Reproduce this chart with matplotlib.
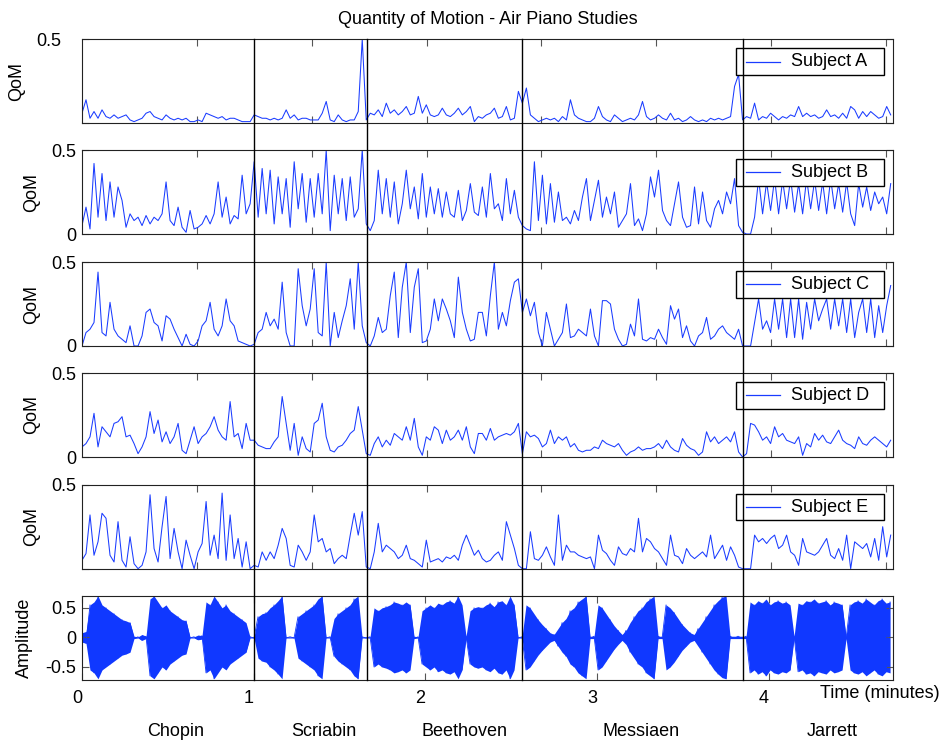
import numpy as np
import matplotlib.pyplot as plt
from matplotlib.lines import Line2D
from matplotlib.patches import Rectangle
from matplotlib import transforms

plt.rcParams['font.family'] = ['Liberation Sans', 'DejaVu Sans']
plt.rcParams['font.size'] = 13

# QoM per subject at evenly spaced video frames
qom_a = [0.06, 0.14, 0.03, 0.07, 0.03, 0.08, 0.04, 0.03, 0.05, 0.03,
         0.04, 0.05, 0.02, 0.01, 0.02, 0.03, 0.06, 0.07, 0.04, 0.03,
         0.02, 0.05, 0.03, 0.02, 0.03, 0.02, 0.03, 0.01, 0.01, 0.02,
         0.01, 0.06, 0.05, 0.04, 0.03, 0.04, 0.02, 0.03, 0.03, 0.02,
         0.01, 0.01, 0.01, 0.05, 0.04, 0.03, 0.03, 0.02, 0.03, 0.02,
         0.03, 0.08, 0.03, 0.05, 0.02, 0.03, 0.03, 0.02, 0.02, 0.02,
         0.06, 0.13, 0.02, 0.01, 0.05, 0.02, 0.01, 0.02, 0.02, 0.07,
         0.50, 0.02, 0.06, 0.05, 0.08, 0.04, 0.12, 0.06, 0.08, 0.05,
         0.07, 0.10, 0.05, 0.06, 0.16, 0.06, 0.11, 0.05, 0.04, 0.05,
         0.09, 0.05, 0.04, 0.06, 0.09, 0.05, 0.07, 0.10, 0.01, 0.04,
         0.03, 0.05, 0.06, 0.09, 0.03, 0.04, 0.10, 0.02, 0.03, 0.19,
         0.12, 0.21, 0.05, 0.03, 0.01, 0.02, 0.03, 0.02, 0.03, 0.01,
         0.04, 0.02, 0.14, 0.05, 0.03, 0.02, 0.01, 0.01, 0.03, 0.10,
         0.04, 0.02, 0.01, 0.05, 0.03, 0.01, 0.02, 0.03, 0.02, 0.05,
         0.13, 0.04, 0.02, 0.03, 0.05, 0.03, 0.02, 0.06, 0.02, 0.03,
         0.01, 0.02, 0.04, 0.02, 0.01, 0.02, 0.01, 0.03, 0.02, 0.03,
         0.02, 0.03, 0.04, 0.22, 0.29, 0.02, 0.04, 0.03, 0.12, 0.02,
         0.04, 0.03, 0.06, 0.04, 0.02, 0.04, 0.03, 0.05, 0.04, 0.10,
         0.04, 0.06, 0.04, 0.05, 0.03, 0.04, 0.08, 0.04, 0.05, 0.03,
         0.06, 0.03, 0.10, 0.08, 0.03, 0.07, 0.04, 0.07, 0.05, 0.03,
         0.04, 0.10, 0.05]

qom_b = [0.05, 0.16, 0.03, 0.42, 0.10, 0.36, 0.08, 0.31, 0.10, 0.28,
         0.20, 0.04, 0.12, 0.08, 0.10, 0.05, 0.11, 0.06, 0.10, 0.08,
         0.12, 0.31, 0.08, 0.05, 0.16, 0.04, 0.01, 0.14, 0.03, 0.04,
         0.06, 0.11, 0.06, 0.12, 0.31, 0.10, 0.22, 0.06, 0.11, 0.09,
         0.35, 0.12, 0.18, 0.43, 0.10, 0.39, 0.12, 0.38, 0.06, 0.34,
         0.12, 0.33, 0.04, 0.43, 0.15, 0.36, 0.07, 0.33, 0.10, 0.36,
         0.12, 0.50, 0.02, 0.35, 0.12, 0.33, 0.08, 0.34, 0.10, 0.15,
         0.50, 0.06, 0.02, 0.08, 0.38, 0.12, 0.33, 0.10, 0.31, 0.06,
         0.18, 0.38, 0.15, 0.28, 0.09, 0.36, 0.10, 0.28, 0.12, 0.27,
         0.10, 0.25, 0.12, 0.10, 0.26, 0.08, 0.14, 0.30, 0.13, 0.11,
         0.28, 0.10, 0.36, 0.15, 0.18, 0.08, 0.33, 0.12, 0.26, 0.10,
         0.05, 0.03, 0.02, 0.43, 0.08, 0.35, 0.06, 0.30, 0.07, 0.25,
         0.08, 0.10, 0.06, 0.14, 0.08, 0.22, 0.33, 0.08, 0.20, 0.32,
         0.10, 0.22, 0.12, 0.25, 0.04, 0.08, 0.12, 0.30, 0.05, 0.09,
         0.02, 0.12, 0.34, 0.22, 0.38, 0.14, 0.08, 0.05, 0.18, 0.31,
         0.10, 0.04, 0.05, 0.28, 0.06, 0.25, 0.08, 0.04, 0.15, 0.20,
         0.12, 0.25, 0.18, 0.33, 0.05, 0.01, 0.00, 0.00, 0.10, 0.33,
         0.12, 0.31, 0.14, 0.33, 0.12, 0.32, 0.15, 0.33, 0.13, 0.30,
         0.12, 0.33, 0.15, 0.32, 0.14, 0.31, 0.12, 0.33, 0.15, 0.30,
         0.13, 0.31, 0.12, 0.05, 0.30, 0.16, 0.28, 0.14, 0.25, 0.18,
         0.22, 0.12, 0.30]

qom_c = [0.00, 0.08, 0.10, 0.14, 0.44, 0.08, 0.06, 0.26, 0.10, 0.06,
         0.04, 0.02, 0.12, 0.00, 0.00, 0.06, 0.20, 0.22, 0.14, 0.12,
         0.03, 0.18, 0.16, 0.10, 0.05, 0.00, 0.07, 0.01, 0.00, 0.03,
         0.12, 0.15, 0.26, 0.10, 0.06, 0.12, 0.28, 0.15, 0.12, 0.03,
         0.02, 0.01, 0.00, 0.01, 0.08, 0.10, 0.20, 0.12, 0.16, 0.10,
         0.38, 0.08, 0.00, 0.00, 0.46, 0.24, 0.12, 0.22, 0.46, 0.08,
         0.06, 0.50, 0.00, 0.20, 0.05, 0.15, 0.24, 0.40, 0.10, 0.50,
         0.12, 0.02, 0.00, 0.06, 0.17, 0.08, 0.10, 0.30, 0.44, 0.05,
         0.35, 0.50, 0.08, 0.35, 0.46, 0.02, 0.03, 0.10, 0.28, 0.15,
         0.28, 0.22, 0.15, 0.05, 0.41, 0.20, 0.10, 0.03, 0.04, 0.20,
         0.20, 0.06, 0.30, 0.50, 0.10, 0.20, 0.12, 0.27, 0.38, 0.40,
         0.20, 0.28, 0.18, 0.26, 0.08, 0.00, 0.20, 0.10, 0.00, 0.04,
         0.08, 0.25, 0.05, 0.06, 0.10, 0.08, 0.06, 0.22, 0.06, 0.00,
         0.27, 0.27, 0.25, 0.10, 0.04, 0.00, 0.01, 0.13, 0.06, 0.28,
         0.04, 0.03, 0.05, 0.04, 0.10, 0.05, 0.01, 0.24, 0.16, 0.22,
         0.05, 0.12, 0.03, 0.00, 0.06, 0.08, 0.17, 0.04, 0.06, 0.10,
         0.12, 0.08, 0.06, 0.04, 0.10, 0.00, 0.00, 0.00, 0.14, 0.28,
         0.10, 0.15, 0.08, 0.28, 0.10, 0.28, 0.05, 0.28, 0.05, 0.28,
         0.04, 0.26, 0.10, 0.28, 0.15, 0.22, 0.28, 0.10, 0.28, 0.12,
         0.28, 0.08, 0.28, 0.05, 0.20, 0.28, 0.08, 0.28, 0.05, 0.24,
         0.08, 0.24, 0.36]

qom_d = [0.06, 0.08, 0.12, 0.26, 0.06, 0.18, 0.15, 0.12, 0.20, 0.21,
         0.24, 0.12, 0.13, 0.08, 0.02, 0.06, 0.12, 0.27, 0.14, 0.22,
         0.09, 0.15, 0.08, 0.12, 0.20, 0.04, 0.02, 0.10, 0.18, 0.08,
         0.12, 0.14, 0.18, 0.24, 0.16, 0.12, 0.10, 0.33, 0.12, 0.14,
         0.05, 0.20, 0.10, 0.10, 0.07, 0.06, 0.05, 0.05, 0.09, 0.12,
         0.36, 0.20, 0.04, 0.20, 0.01, 0.12, 0.05, 0.03, 0.20, 0.22,
         0.32, 0.12, 0.04, 0.03, 0.06, 0.07, 0.10, 0.14, 0.16, 0.30,
         0.16, 0.02, 0.01, 0.08, 0.12, 0.06, 0.10, 0.07, 0.14, 0.12,
         0.10, 0.18, 0.10, 0.23, 0.06, 0.01, 0.12, 0.10, 0.18, 0.16,
         0.08, 0.16, 0.10, 0.12, 0.16, 0.10, 0.18, 0.06, 0.02, 0.14,
         0.14, 0.10, 0.17, 0.10, 0.12, 0.13, 0.14, 0.13, 0.15, 0.20,
         0.02, 0.15, 0.12, 0.13, 0.11, 0.06, 0.08, 0.16, 0.08, 0.12,
         0.10, 0.12, 0.06, 0.08, 0.04, 0.03, 0.04, 0.04, 0.06, 0.05,
         0.10, 0.08, 0.07, 0.06, 0.08, 0.04, 0.01, 0.03, 0.04, 0.06,
         0.04, 0.05, 0.05, 0.06, 0.08, 0.05, 0.10, 0.06, 0.04, 0.03,
         0.11, 0.07, 0.05, 0.04, 0.01, 0.03, 0.15, 0.09, 0.12, 0.08,
         0.10, 0.12, 0.09, 0.15, 0.03, 0.00, 0.02, 0.20, 0.19, 0.15,
         0.10, 0.12, 0.08, 0.18, 0.12, 0.14, 0.10, 0.09, 0.08, 0.12,
         0.01, 0.08, 0.06, 0.14, 0.10, 0.13, 0.09, 0.08, 0.12, 0.16,
         0.10, 0.08, 0.07, 0.05, 0.12, 0.08, 0.07, 0.10, 0.12, 0.10,
         0.08, 0.06, 0.10]

qom_e = [0.05, 0.09, 0.32, 0.08, 0.16, 0.33, 0.30, 0.08, 0.04, 0.28,
         0.05, 0.01, 0.19, 0.03, 0.00, 0.02, 0.10, 0.44, 0.12, 0.04,
         0.25, 0.43, 0.06, 0.24, 0.10, 0.00, 0.17, 0.08, 0.00, 0.10,
         0.15, 0.40, 0.08, 0.20, 0.06, 0.45, 0.05, 0.32, 0.06, 0.18,
         0.01, 0.16, 0.00, 0.02, 0.01, 0.10, 0.05, 0.10, 0.06, 0.14,
         0.24, 0.18, 0.02, 0.01, 0.14, 0.10, 0.05, 0.10, 0.32, 0.16,
         0.18, 0.10, 0.12, 0.03, 0.06, 0.08, 0.06, 0.20, 0.33, 0.20,
         0.34, 0.01, 0.00, 0.10, 0.27, 0.10, 0.14, 0.12, 0.10, 0.06,
         0.08, 0.14, 0.06, 0.05, 0.03, 0.01, 0.17, 0.04, 0.05, 0.06,
         0.04, 0.07, 0.06, 0.08, 0.05, 0.14, 0.20, 0.14, 0.08, 0.11,
         0.06, 0.04, 0.05, 0.08, 0.10, 0.05, 0.28, 0.20, 0.12, 0.02,
         0.00, 0.00, 0.22, 0.06, 0.05, 0.08, 0.13, 0.07, 0.02, 0.32,
         0.05, 0.14, 0.10, 0.10, 0.08, 0.07, 0.06, 0.07, 0.00, 0.20,
         0.11, 0.09, 0.05, 0.02, 0.13, 0.09, 0.08, 0.12, 0.10, 0.30,
         0.10, 0.18, 0.16, 0.12, 0.10, 0.06, 0.02, 0.20, 0.08, 0.07,
         0.03, 0.12, 0.08, 0.06, 0.08, 0.10, 0.07, 0.20, 0.06, 0.10,
         0.14, 0.05, 0.13, 0.08, 0.01, 0.00, 0.00, 0.00, 0.20, 0.16,
         0.18, 0.15, 0.18, 0.20, 0.12, 0.14, 0.20, 0.10, 0.08, 0.02,
         0.18, 0.10, 0.09, 0.08, 0.10, 0.14, 0.18, 0.08, 0.06, 0.12,
         0.05, 0.20, 0.00, 0.16, 0.14, 0.12, 0.15, 0.07, 0.18, 0.05,
         0.25, 0.07, 0.20]

# audio amplitude envelope (minutes axis), read at even steps
audio_env = [0.08, 0.10, 0.55, 0.60, 0.70, 0.55, 0.50, 0.45, 0.40, 0.35,
             0.30, 0.28, 0.25, 0.02, 0.01, 0.05, 0.02, 0.65, 0.70, 0.60,
             0.50, 0.55, 0.45, 0.40, 0.35, 0.30, 0.28, 0.01, 0.01, 0.04,
             0.03, 0.60, 0.55, 0.70, 0.60, 0.50, 0.55, 0.45, 0.40, 0.35,
             0.30, 0.25, 0.01, 0.01, 0.35, 0.40, 0.42, 0.50, 0.55, 0.62,
             0.70, 0.01, 0.01, 0.01, 0.35, 0.40, 0.45, 0.50, 0.55, 0.65,
             0.70, 0.01, 0.01, 0.32, 0.40, 0.45, 0.50, 0.55, 0.65, 0.70,
             0.01, 0.01, 0.01, 0.50, 0.45, 0.50, 0.52, 0.55, 0.60, 0.58,
             0.55, 0.60, 0.55, 0.02, 0.01, 0.45, 0.50, 0.55, 0.50, 0.58,
             0.55, 0.60, 0.62, 0.58, 0.70, 0.55, 0.02, 0.45, 0.50, 0.52,
             0.50, 0.55, 0.58, 0.52, 0.60, 0.62, 0.55, 0.70, 0.55, 0.01,
             0.01, 0.55, 0.50, 0.40, 0.30, 0.22, 0.15, 0.08, 0.05, 0.15,
             0.25, 0.32, 0.45, 0.50, 0.60, 0.65, 0.70, 0.02, 0.02, 0.55,
             0.50, 0.40, 0.30, 0.20, 0.12, 0.05, 0.12, 0.25, 0.35, 0.45,
             0.50, 0.60, 0.65, 0.70, 0.02, 0.02, 0.55, 0.50, 0.42, 0.32,
             0.22, 0.15, 0.08, 0.05, 0.15, 0.25, 0.35, 0.45, 0.55, 0.62,
             0.68, 0.70, 0.02, 0.02, 0.02, 0.02, 0.02, 0.60, 0.55, 0.62,
             0.58, 0.65, 0.55, 0.60, 0.62, 0.58, 0.60, 0.55, 0.02, 0.58,
             0.55, 0.62, 0.60, 0.65, 0.58, 0.60, 0.62, 0.55, 0.60, 0.58,
             0.55, 0.02, 0.55, 0.60, 0.62, 0.58, 0.65, 0.60, 0.55, 0.62,
             0.65, 0.58, 0.60]

subjects = ['Subject A', 'Subject B', 'Subject C', 'Subject D', 'Subject E']
series = [qom_a, qom_b, qom_c, qom_d, qom_e]
section_starts = [1.0, 1.66, 2.56, 3.85]      # minutes
composers = ['Chopin', 'Scriabin', 'Beethoven', 'Messiaen', 'Jarrett']
composer_x = [0.545, 1.41, 2.23, 3.256, 4.368]  # minutes

blue = '#1a3cff'
W, H = 947, 742
fig = plt.figure(figsize=(W / 100, H / 100), dpi=100)
left, width, height = 82 / W, 811 / W, 84 / H
bottoms = [123.3, 234, 346, 457, 568.7, 680]


def style_axes(ax):
    ax.tick_params(direction='in', length=5, top=True, right=True,
                   color='#555555', labelsize=13)
    for s in ax.spines.values():
        s.set_linewidth(0.8)
        s.set_color('#222222')


def box_legend(ax, label):
    # MATLAB-like legend box in the upper right corner
    ax.add_patch(Rectangle((0.8064, 0.575), 0.1825, 0.318, transform=ax.transAxes,
                           facecolor='white', edgecolor='black', lw=1.0, zorder=5))
    ax.add_line(Line2D([0.8187, 0.8607], [0.734, 0.734], transform=ax.transAxes,
                       color=blue, lw=0.9, zorder=6))
    ax.text(0.8739, 0.734, label, transform=ax.transAxes, ha='left', va='center',
            fontsize=13, zorder=6)


for i, (name, vals) in enumerate(zip(subjects, series)):
    ax = fig.add_axes([left, 1 - bottoms[i] / H, width, height])
    frames = np.linspace(0, 7040, len(vals))
    ax.plot(frames, vals, color=blue, lw=0.75)
    ax.set_xlim(0, 7060)
    ax.set_ylim(0, 0.5)
    ax.set_xticks(np.arange(1000, 7001, 1000))
    ax.set_xticklabels([])
    ax.set_yticks([0, 0.5])
    if i in (0, 4):
        ax.set_yticklabels(['', '0.5'])
    else:
        ax.set_yticklabels(['0', '0.5'])
    style_axes(ax)
    ax.tick_params(axis='y', pad=15 if i == 0 else 4.3)
    ax.set_ylabel('QoM')
    ax.yaxis.set_label_coords(-0.0703 if i == 0 else -0.0518, 0.5)
    box_legend(ax, name)

# audio panel
ax6 = fig.add_axes([left, 1 - bottoms[5] / H, width, height])
env = np.array(audio_env)
mins = np.linspace(0, 4.706, len(env))
zig = env * np.where(np.arange(len(env)) % 2 == 0, 1, -1)
ax6.fill_between(mins, -env, env, color='#1038ff', lw=0)
ax6.plot(mins, zig, color='#1038ff', lw=0.6)
ax6.set_xlim(0, 4.723)
ax6.set_ylim(-0.72, 0.7)
ax6.set_xticks([0, 1, 2, 3, 4])
ax6.set_yticks([-0.5, 0, 0.5])
ax6.set_yticklabels(['-0.5', '0', '0.5'])
style_axes(ax6)
ax6.tick_params(axis='y', pad=4.3)
ax6.tick_params(axis='x', pad=7)
ax6.set_ylabel('Amplitude')
ax6.yaxis.set_label_coords(-0.0604, 0.5)
shift = transforms.ScaledTranslation(-5 / 100, 0, fig.dpi_scale_trans)
for lbl in ax6.xaxis.get_majorticklabels():
    lbl.set_transform(lbl.get_transform() + shift)

# section boundaries across all panels
blend = transforms.blended_transform_factory(ax6.transData, fig.transFigure)
for m in section_starts:
    fig.add_artist(Line2D([m, m], [1 - 680 / H, 1 - 39.3 / H],
                          transform=blend, color='black', lw=1.0, zorder=10))

for name, xm in zip(composers, composer_x):
    fig.text(xm, 1 - 731 / H, name, transform=blend, ha='center', va='center',
             fontsize=13)

fig.text((82 + 893) / 2 / W, 1 - 19 / H, 'Quantity of Motion - Air Piano Studies',
         ha='center', va='center', fontsize=13)
fig.text(820 / W, 1 - 694 / H, 'Time (minutes)', ha='left', va='center',
         fontsize=13)

fig.savefig('out.png', dpi=100)
